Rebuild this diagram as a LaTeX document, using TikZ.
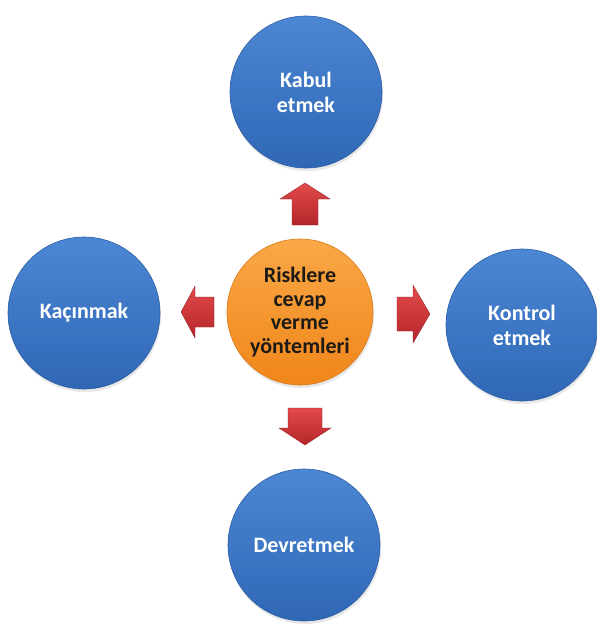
\documentclass[tikz,border=0pt]{standalone}
\usepackage{fontspec}
\setmainfont{Carlito}
\usetikzlibrary{shadows}
\definecolor{blueTop}{HTML}{4C87D4}
\definecolor{blueBot}{HTML}{2F67B5}
\definecolor{orTop}{HTML}{F9A847}
\definecolor{orBot}{HTML}{F0861A}
\definecolor{redTop}{HTML}{E24A4C}
\definecolor{redBot}{HTML}{B4262A}
\definecolor{darktext}{HTML}{1E1A16}
\newcommand\redblockarrow[8]{% name, x, y, angle, length, head half width, shaft half width, head length
  \begin{scope}[shift={(#2,#3)}, rotate=#4]
    \coordinate (#1) at (0,0);
    \shade[top color=redTop, bottom color=redBot, draw=redBot!80!black, line width=0.3pt]
      (-#5/2,-#7) -- (#5/2-#8,-#7) -- (#5/2-#8,-#6) -- (#5/2,0) -- (#5/2-#8,#6) -- (#5/2-#8,#7) -- (-#5/2,#7) -- cycle;
  \end{scope}}
\begin{document}
\begin{tikzpicture}[x=1pt,y=-1pt,
  bluecirc/.style={circle, minimum size=152pt, inner sep=0pt, top color=blueTop, bottom color=blueBot, draw=blueBot!90!black, line width=0.6pt, text=white, align=center, font=\fontsize{22}{25}\selectfont\bfseries, drop shadow={opacity=0.18, shadow xshift=1pt, shadow yshift=-3pt}},
  orcirc/.style={circle, minimum size=146pt, inner sep=0pt, top color=orTop, bottom color=orBot, draw=orBot!90!black, line width=0.6pt, text=darktext, align=center, font=\fontsize{22}{23.5}\selectfont\bfseries, drop shadow={opacity=0.18, shadow xshift=1pt, shadow yshift=-3pt}}
]
\useasboundingbox (0,0) rectangle (597,633);
\fill[white] (0,0) rectangle (597,633);

\node[orcirc] (center) at (300,312) {Risklere\\cevap\\verme\\yöntemleri};
\node[bluecirc] (top) at (306,92) {Kabul\\etmek};
\node[bluecirc] (left) at (84,313) {Kaçınmak};
\node[bluecirc] (right) at (522,325) {Kontrol\\etmek};
\node[bluecirc] (bottom) at (304,545) {Devretmek};

\redblockarrow{aup}{305}{204}{90}{42}{25}{13}{16}
\redblockarrow{aleft}{197.5}{312}{180}{33}{26}{15}{14}
\redblockarrow{aright}{413.5}{314}{0}{33}{29}{17}{17}
\redblockarrow{adown}{305}{426.5}{-90}{37}{26}{17}{17}
\end{tikzpicture}
\end{document}
